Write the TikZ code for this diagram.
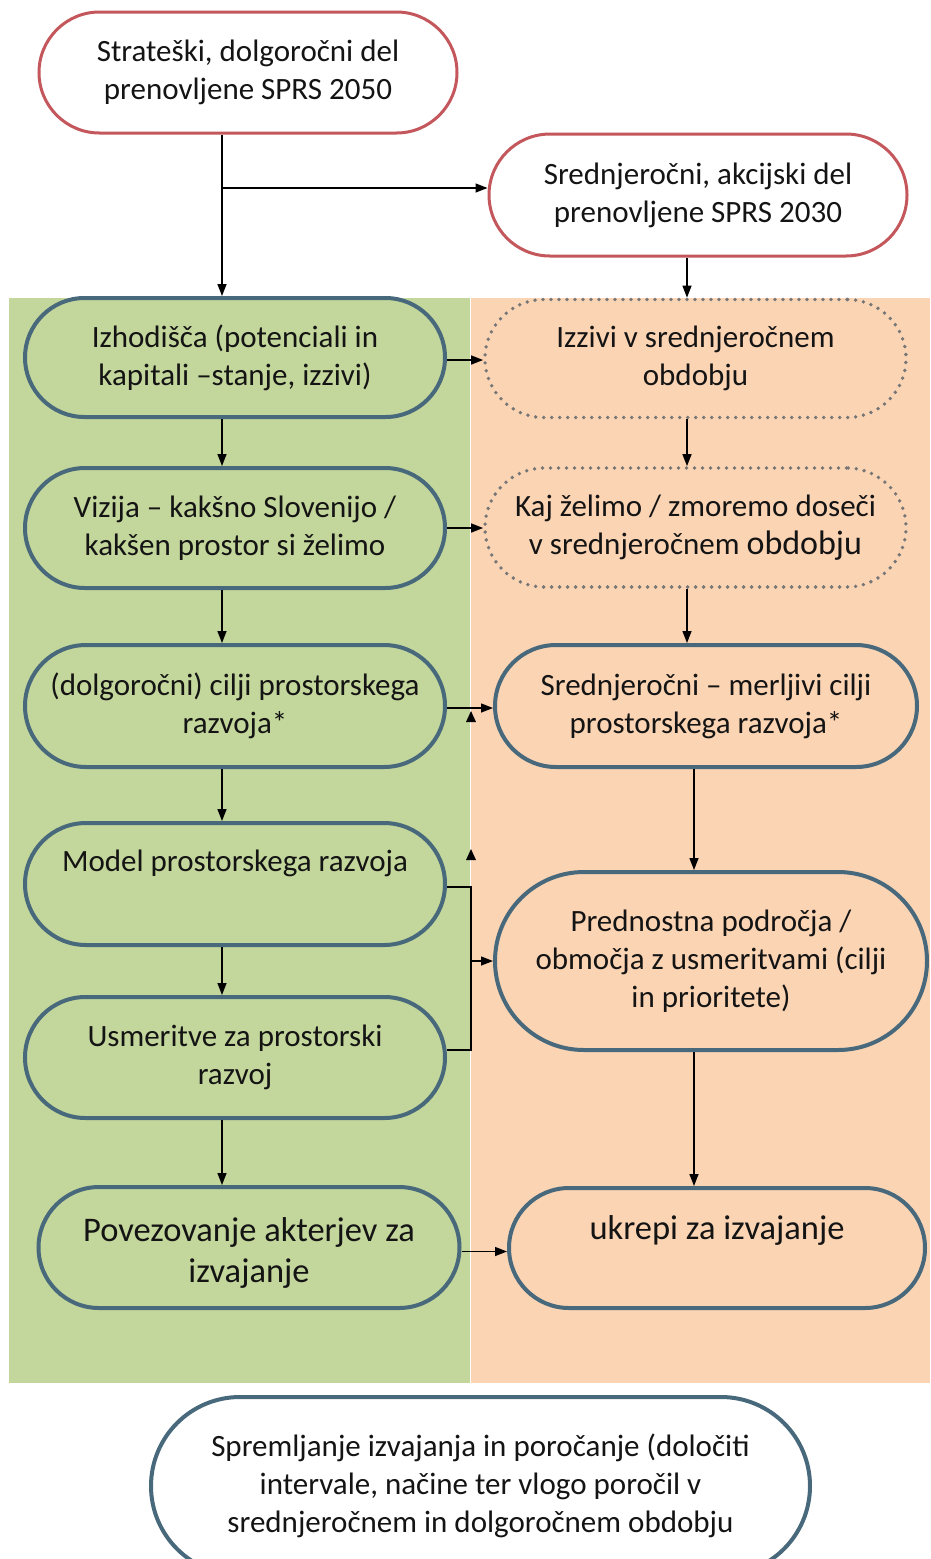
\documentclass[tikz,border=0pt]{standalone}
\usepackage{fontspec}
\setmainfont{Carlito}
\usetikzlibrary{arrows.meta,calc}
\definecolor{redb}{HTML}{C4575C}
\definecolor{slate}{HTML}{48687C}
\definecolor{greenbg}{HTML}{C3D69B}
\definecolor{orangebg}{HTML}{FBD4B4}
\definecolor{dotc}{HTML}{767676}
\definecolor{txt}{HTML}{141414}
\tikzset{
  pill/.style={rectangle, inner sep=0pt, align=center, text=txt, font=\fontsize{31}{38}\selectfont},
  redpill/.style={pill, draw=redb, line width=3pt, fill=white},
  gpill/.style={pill, draw=slate, line width=4pt, fill=greenbg},
  opill/.style={pill, draw=slate, line width=4pt, fill=orangebg},
  dpill/.style={pill, draw=dotc, line width=3.8pt, dash pattern=on 0pt off 8pt, line cap=round, fill=orangebg},
  wpill/.style={pill, draw=slate, line width=4pt, fill=white},
  plain/.style={pill},
  bigtext/.style={font=\fontsize{34.5}{41}\selectfont},
  arr/.style={draw=black, line width=1.4pt, -{Triangle[length=12pt,width=9pt]}},
  conn/.style={draw=black, line width=1.4pt},
}
\begin{document}
\begin{tikzpicture}[x=1pt,y=-1pt]
\useasboundingbox (0,0) rectangle (930,1559);
\fill[white] (0,0) rectangle (930,1559);
\fill[greenbg] (9,298) rectangle (469.5,1383);
\fill[orangebg] (471,298) rectangle (930,1383);

% top boxes
\node[redpill, minimum width=418pt, minimum height=121pt, rounded corners=60.5pt] (s1) at (248,72.5)
  {Strateški, dolgoročni del\\prenovljene SPRS 2050};
\node[redpill, minimum width=418pt, minimum height=122pt, rounded corners=61pt] (s2) at (698,195)
  {Srednjeročni, akcijski del\\prenovljene SPRS 2030};

% green column
\node[gpill, minimum width=420pt, minimum height=119pt, rounded corners=59.5pt] (g1) at (235,357.5)
  {Izhodišča (potenciali in\\kapitali –stanje, izzivi)};
\node[gpill, minimum width=420pt, minimum height=120pt, rounded corners=60pt] (g2) at (235,528)
  {Vizija – kakšno Slovenijo /\\kakšen prostor si želimo};
\node[gpill, minimum width=420pt, minimum height=122pt, rounded corners=61pt] (g3) at (235,706)
  {(dolgoročni) cilji prostorskega\\razvoja*};
\node[gpill, minimum width=420pt, minimum height=122pt, rounded corners=61pt] (g4) at (235,884) {};
\node[plain] (g4t) at ($(g4.north)+(0,42)$) {Model prostorskega razvoja};
\node[gpill, minimum width=420pt, minimum height=121pt, rounded corners=60.5pt] (g5) at (235,1057.5)
  {Usmeritve za prostorski\\razvoj};
\node[gpill, minimum width=421pt, minimum height=121pt, rounded corners=60.5pt] (g6) at (249,1247.5) {};
\node[plain, bigtext] (g6t) at ($(g6.center)+(0,5)$) {Povezovanje akterjev za\\izvajanje};

% orange column
\node[dpill, minimum width=421pt, minimum height=118pt, rounded corners=59pt] (o1) at (695.5,358.5)
  {Izzivi v srednjeročnem\\obdobju};
\node[dpill, minimum width=421pt, minimum height=119pt, rounded corners=59.5pt] (o2) at (695.5,527.5)
  {Kaj želimo / zmoremo doseči\\v srednjeročnem {\fontsize{34}{38}\selectfont obdobju}};
\node[opill, minimum width=422pt, minimum height=122pt, rounded corners=61pt] (o3) at (706,706)
  {Srednjeročni – merljivi cilji\\prostorskega razvoja*};
\node[opill, minimum width=432pt, minimum height=178pt, rounded corners=89pt] (o4) at (711,961)
  {Prednostna področja /\\območja z usmeritvami (cilji\\in prioritete)};
\node[opill, minimum width=416pt, minimum height=120pt, rounded corners=60pt] (o5) at (717,1248) {};
\node[plain, bigtext] (o5t) at ($(o5.north)+(0,44)$) {ukrepi za izvajanje};

% bottom box
\node[wpill, minimum width=659pt, minimum height=178pt, rounded corners=89pt] (b) at (480.5,1486)
  {Spremljanje izvajanja in poročanje (določiti\\intervale, načine ter vlogo poročil v\\srednjeročnem in dolgoročnem obdobju};

% helper coordinates
\coordinate (ax) at (222,0);
\coordinate (ox) at (687,0);
\coordinate (ox2) at (694,0);
\coordinate (br) at (222,188);
\coordinate (jx) at (471,0);
\coordinate (jt) at (471,887);
\coordinate (jb) at (471,1050);

% connectors
\draw[arr] (s1.south -| ax) -- (g1.north -| ax);
\draw[arr] (br) -- (br -| s2.west);
\draw[arr] (s2.south -| ox) -- (o1.north -| ox);

\draw[arr] (g1.south -| ax) -- (g2.north -| ax);
\draw[arr] (g2.south -| ax) -- (g3.north -| ax);
\draw[arr] (g3.south -| ax) -- (g4.north -| ax);
\draw[arr] (g4.south -| ax) -- (g5.north -| ax);
\draw[arr] (g5.south -| ax) -- (g6.north -| ax);

\draw[arr] (o1.south -| ox) -- (o2.north -| ox);
\draw[arr] (o2.south -| ox) -- (o3.north -| ox);
\draw[arr] (o3.south -| ox2) -- (o4.north -| ox2);
\draw[arr] (o4.south -| ox2) -- (o5.north -| ox2);

\draw[arr] ($(g1.east)+(0,2.5)$) -- ($(g1.east -| o1.west)+(0,2.5)$);
\draw[arr] (g2.east) -- (g2.east -| o2.west);
\draw[arr] ($(g3.east)+(0,2)$) -- ($(g3.east -| o3.west)+(0,2)$);
\draw[arr] ($(g6.east)+(0,4)$) -- ($(g6.east -| o5.west)+(0,4)$);

\draw[conn] (jt -| g4.east) -- (jt) -- (jb) -- (jb -| g5.east);
\draw[arr] (o4.west -| jx) -- (o4.west);

% small stray arrowheads
\fill[black] (466,722) -- (476,722) -- (471,711) -- cycle;
\fill[black] (466,860) -- (476,860) -- (471,849) -- cycle;
\end{tikzpicture}
\end{document}
